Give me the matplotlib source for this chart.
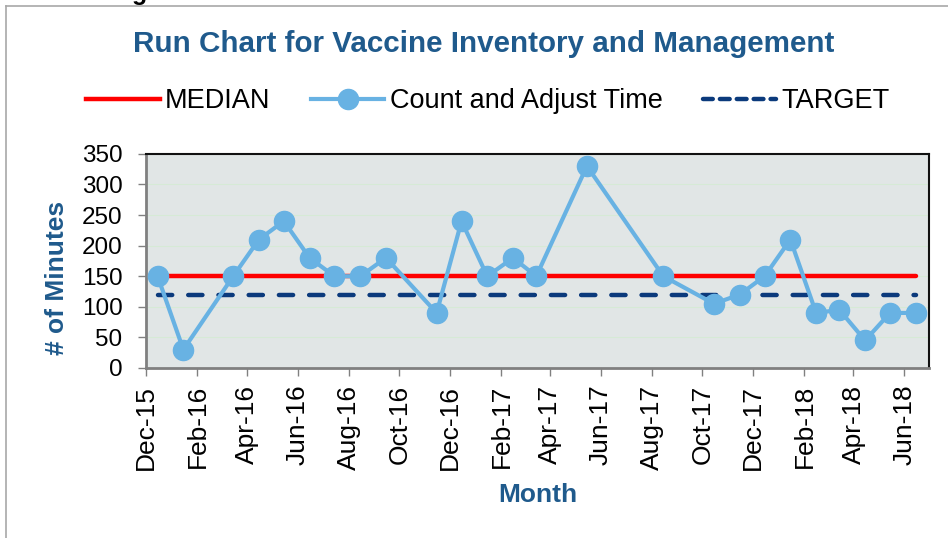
import pandas as pd
import numpy as np
import matplotlib
matplotlib.use('Agg')
import matplotlib.pyplot as plt
import matplotlib.dates as mdates
from matplotlib.lines import Line2D

plt.rcParams['font.family'] = ['Liberation Sans', 'DejaVu Sans']

# data
months = ['2015-12-15', '2016-01-15', '2016-03-15', '2016-04-15', '2016-05-15',
          '2016-06-15', '2016-07-15', '2016-08-15', '2016-09-15', '2016-11-15',
          '2016-12-15', '2017-01-15', '2017-02-15', '2017-03-15', '2017-05-15',
          '2017-08-15', '2017-10-15', '2017-11-15', '2017-12-15', '2018-01-15',
          '2018-02-15', '2018-03-15', '2018-04-15', '2018-05-15', '2018-06-15']
count_time = [150, 30, 150, 210, 240, 180, 150, 150, 180, 90,
              240, 150, 180, 150, 330, 150, 105, 120, 150, 210,
              90, 95, 45, 90, 90]
median_value = 150
target_value = 120

title_blue = '#1F5A8C'
point_blue = '#68B2E3'
target_navy = '#0B3A7C'

dates = pd.to_datetime(months)

fig = plt.figure(figsize=(9.48, 5.38), dpi=100)
ax = fig.add_axes([0.154, 0.316, 0.826, 0.398])
ax.set_facecolor('#E1E6E6')

ends = [dates[0], dates[-1]]
ax.plot(ends, [median_value, median_value], color='#FF0000', lw=3.2,
        solid_capstyle='round', zorder=3, label='MEDIAN')
ax.plot(ends, [target_value, target_value], color=target_navy, lw=3.2,
        dashes=(3.2, 3.6), dash_capstyle='round', zorder=3, label='TARGET')
ax.plot(dates, count_time, color=point_blue, lw=3, marker='o', ms=14.5,
        zorder=4, label='Count and Adjust Time')

ax.set_ylim(0, 350)
ax.set_yticks(np.arange(0, 351, 50))
ax.set_xlim(pd.Timestamp('2015-12-01'), pd.Timestamp('2018-07-01'))
ax.xaxis.set_major_locator(mdates.MonthLocator(bymonth=[2, 4, 6, 8, 10, 12]))
ax.xaxis.set_major_formatter(mdates.DateFormatter('%b-%y'))
ax.grid(axis='y', color='#D6EAD6', lw=0.8, zorder=0)
ax.set_axisbelow(True)

for s in ['left', 'bottom']:
    ax.spines[s].set_color('#808080')
    ax.spines[s].set_linewidth(2)
for s in ['top', 'right']:
    ax.spines[s].set_color('#111111')
    ax.spines[s].set_linewidth(1.5)

ax.tick_params(axis='x', labelsize=19, rotation=90, length=6, color='#808080', width=1, pad=6)
ax.tick_params(axis='y', labelsize=17.5, length=6, color='#808080', width=1, pad=11)

ax.set_xlabel('Month', fontsize=19, fontweight='bold', color=title_blue)
ax.set_ylabel('# of Minutes', fontsize=19, fontweight='bold', color=title_blue)
ax.xaxis.set_label_coords(0.5, -0.535)
ax.yaxis.set_label_coords(-0.098, 0.42)

fig.text(0.51, 0.918, 'Run Chart for Vaccine Inventory and Management', ha='center',
         va='center', fontsize=21.3, fontweight='bold', color=title_blue)

handles = [Line2D([], [], color='#FF0000', lw=3.2),
           Line2D([], [], color=point_blue, lw=3, marker='o', ms=14.5),
           Line2D([], [], color=target_navy, lw=3.2, dashes=(2.2, 1.6), dash_capstyle='round')]
fig.legend(handles, ['MEDIAN', 'Count and Adjust Time', 'TARGET'], loc='center',
           bbox_to_anchor=(0.515, 0.812), ncol=3, frameon=False, fontsize=19.5,
           handlelength=2.7, handletextpad=0.2, columnspacing=1.5)

# frame of the pasted chart and the cut-off letter above it
fig.add_artist(Line2D([6 / 948, 6 / 948], [0, 1 - 6 / 538], color='#A8A8A8', lw=1.2))
fig.add_artist(Line2D([6 / 948, 1], [1 - 6 / 538, 1 - 6 / 538], color='#A8A8A8', lw=1.2))
fig.text(140 / 948, 1.0, 'g', ha='center', va='baseline', fontsize=18, fontweight='bold')

fig.savefig('out.png', dpi=100)
